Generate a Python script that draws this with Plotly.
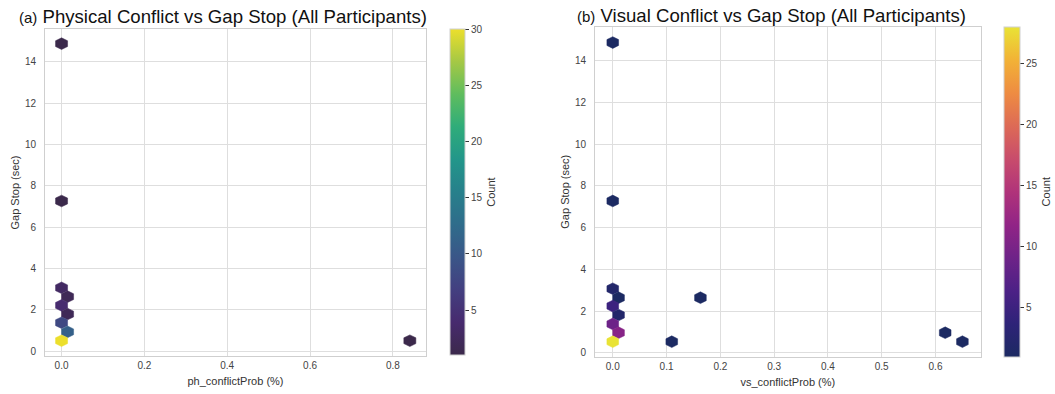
import plotly.graph_objects as go
from plotly.colors import sample_colorscale

# Hexbin cell centres and counts: physical conflict probability vs gap stop
ph_x = [0.0, 0.0, 0.0, 0.0145, 0.0, 0.0145, 0.0, 0.0145, 0.0, 0.841]
ph_y = [14.87, 7.26, 3.06, 2.63, 2.21, 1.79, 1.37, 0.93, 0.50, 0.50]
ph_count = [1, 1, 3, 2, 4, 2, 8, 11, 30, 1]

# Hexbin cell centres and counts: visual conflict probability vs gap stop
vs_x = [0.0, 0.0, 0.0, 0.0108, 0.0, 0.0108, 0.0, 0.0108, 0.0, 0.1097, 0.163, 0.618, 0.650]
vs_y = [14.88, 7.28, 3.07, 2.64, 2.24, 1.81, 1.38, 0.96, 0.53, 0.53, 2.64, 0.96, 0.53]
vs_count = [1, 1, 2, 1, 5, 2, 9, 11, 28, 1, 1, 1, 1]

ph_xticks = [0.0, 0.2, 0.4, 0.6, 0.8]
vs_xticks = [0.0, 0.1, 0.2, 0.3, 0.4, 0.5, 0.6]
y_ticks = [0, 2, 4, 6, 8, 10, 12, 14]
ph_cbar_ticks = [5, 10, 15, 20, 25, 30]
vs_cbar_ticks = [5, 10, 15, 20, 25]

# hexagon cell size (x spacing, y spacing) per panel
PH_SX, PH_SY = 0.029, 0.845
VS_SX, VS_SY = 0.0217, 0.844

VIRIDIS_SOFT = [
    [0.0, "rgb(59,41,75)"], [0.1, "rgb(71,42,110)"], [0.2, "rgb(67,63,128)"],
    [0.3, "rgb(58,86,136)"], [0.4, "rgb(47,108,139)"], [0.5, "rgb(39,128,139)"],
    [0.6, "rgb(34,150,138)"], [0.7, "rgb(47,172,122)"], [0.8, "rgb(95,189,94)"],
    [0.9, "rgb(165,200,69)"], [1.0, "rgb(236,223,44)"],
]
PLASMA_SOFT = [
    [0.0, "rgb(28,42,98)"], [0.1, "rgb(46,35,120)"], [0.2, "rgb(76,33,134)"],
    [0.3, "rgb(110,35,136)"], [0.4, "rgb(145,36,134)"], [0.5, "rgb(176,51,122)"],
    [0.6, "rgb(200,76,108)"], [0.7, "rgb(221,106,86)"], [0.8, "rgb(238,140,66)"],
    [0.9, "rgb(242,178,54)"], [1.0, "rgb(233,227,53)"],
]

HEX_DX = [0.5, 0.5, 0.0, -0.5, -0.5, 0.0, 0.5]
HEX_DY = [-1 / 6, 1 / 6, 1 / 3, 1 / 6, -1 / 6, -1 / 3, -1 / 6]

fig = go.Figure()


def add_hexbin(xs, ys, counts, sx, sy, cscale, cmin, cmax, xa, ya, cax):
    colors = sample_colorscale(cscale, [(c - cmin) / (cmax - cmin) for c in counts])
    for x, y, col in zip(xs, ys, colors):
        fig.add_trace(go.Scatter(
            x=[x + d * sx for d in HEX_DX], y=[y + d * sy for d in HEX_DY],
            mode="lines", fill="toself", fillcolor=col,
            line=dict(color=col, width=0.5),
            xaxis=xa, yaxis=ya, hoverinfo="skip", showlegend=False,
        ))
    # carrier trace for the colour bar
    fig.add_trace(go.Scatter(
        x=xs, y=ys, mode="markers",
        marker=dict(color=counts, coloraxis=cax, size=1, opacity=0),
        xaxis=xa, yaxis=ya, showlegend=False, hoverinfo="skip",
    ))


add_hexbin(ph_x, ph_y, ph_count, PH_SX, PH_SY, VIRIDIS_SOFT, 1, 30, "x", "y", "coloraxis")
add_hexbin(vs_x, vs_y, vs_count, VS_SX, VS_SY, PLASMA_SOFT, 1, 28, "x2", "y2", "coloraxis2")

W, H = 1055, 394
FAMILY = "Liberation Sans, Arial, sans-serif"
tick_font = dict(family=FAMILY, size=10, color="#444444")
title_font = dict(family=FAMILY, size=11, color="#333333")
grid = dict(showgrid=True, gridcolor="#dedede", gridwidth=1, zeroline=False,
            showline=True, linecolor="#cfcfcf", linewidth=1, mirror=True,
            ticks="", tickfont=tick_font, title_font=title_font, automargin=False)


def cbar(x, top, length, thick, ticks):
    return dict(
        x=x / W, xanchor="left", y=1 - top / H, yanchor="top", xpad=0, ypad=0,
        lenmode="pixels", len=length, thicknessmode="pixels", thickness=thick,
        outlinecolor="#d0d0d0", outlinewidth=1,
        ticks="outside", ticklen=4, tickwidth=1, tickcolor="#333333",
        tickvals=ticks, tickfont=tick_font,
        title=dict(text="Count", side="right", font=title_font),
    )


fig.update_layout(
    width=W, height=H, margin=dict(l=0, r=0, t=0, b=0, autoexpand=False),
    paper_bgcolor="white", plot_bgcolor="white",
    font=dict(family=FAMILY),
    xaxis=dict(domain=[45 / W, 426 / W], range=[-0.040, 0.880], tickvals=ph_xticks,
               tickformat=".1f", anchor="y",
               title=dict(text="ph_conflictProb (%)", standoff=7), **grid),
    yaxis=dict(domain=[1 - 356 / H, 1 - 29 / H], range=[-0.24, 15.58], tickvals=y_ticks,
               anchor="x", ticklabelstandoff=6,
               title=dict(text="Gap Stop (sec)", standoff=3), **grid),
    xaxis2=dict(domain=[595 / W, 980.7 / W], range=[-0.033, 0.684], tickvals=vs_xticks,
                tickformat=".1f", anchor="y2",
                title=dict(text="vs_conflictProb (%)", standoff=7), **grid),
    yaxis2=dict(domain=[1 - 356.7 / H, 1 - 26.7 / H], range=[-0.19, 15.64], tickvals=y_ticks,
                anchor="x2", ticklabelstandoff=6,
                title=dict(text="Gap Stop (sec)", standoff=3), **grid),
    coloraxis=dict(colorscale=VIRIDIS_SOFT, cmin=1, cmax=30,
                   colorbar=cbar(450, 29, 326, 15, ph_cbar_ticks)),
    coloraxis2=dict(colorscale=PLASMA_SOFT, cmin=1, cmax=28,
                    colorbar=cbar(1004, 26.7, 330, 16, vs_cbar_ticks)),
    annotations=[
        dict(text="<span style='font-size:15px'>(a)</span> Physical Conflict vs Gap Stop (All Participants)",
             xref="paper", yref="paper", x=17 / W, y=1 - 16 / H, xanchor="left", yanchor="middle",
             showarrow=False, font=dict(family=FAMILY, size=18.6, color="#111111")),
        dict(text="<span style='font-size:15px'>(b)</span> Visual Conflict vs Gap Stop (All Participants)",
             xref="paper", yref="paper", x=575 / W, y=1 - 15 / H, xanchor="left", yanchor="middle",
             showarrow=False, font=dict(family=FAMILY, size=18.6, color="#111111")),
    ],
)

fig.write_html("out.html")
